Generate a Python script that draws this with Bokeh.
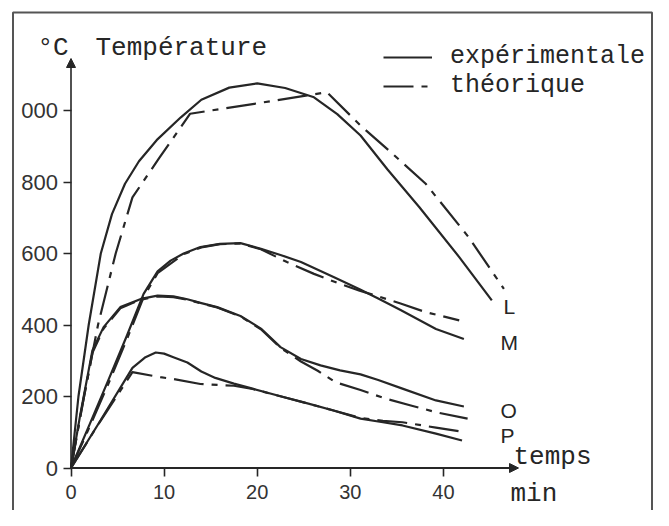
from bokeh.plotting import figure
from bokeh.models import Range1d, FixedTicker, Label, Arrow, NormalHead, Legend, LegendItem
from bokeh.embed import file_html
from bokeh.resources import INLINE

# ---------------- data ----------------
x_ticks = [0, 10, 20, 30, 40]
y_ticks = [0, 200, 400, 600, 800, 1000]
y_tick_labels = {1000: "000"}

# L
L_exp_t = [0, 0.8, 1.9, 3.2, 4.4, 5.8, 7.3, 9.2, 11.8, 14, 17, 20, 23, 26.1, 28.6, 31.1, 34, 37.4, 41.7, 45.2]
L_exp_T = [0, 200, 400, 600, 710, 795, 858, 917, 981, 1030, 1064, 1076, 1063, 1037, 990, 930, 835, 730, 590, 469]
L_th_t = [0, 1.4, 2.9, 4.8, 6.6, 9.5, 12.8, 20, 27.5, 31.1, 34.5, 38.1, 42.7, 46.5]
L_th_T = [0, 200, 400, 600, 757, 868, 991, 1020, 1051, 958, 880, 795, 646, 501]
# M
M_exp_t = [0, 2, 4, 6, 7.8, 9.3, 10.7, 12.1, 13.9, 16, 18.2, 20.4, 22.5, 24.7, 28.2, 31, 33, 35.4, 39.2, 42.2]
M_exp_T = [0, 122, 245, 370, 487, 550, 580, 600, 618, 627, 629, 613, 596, 576, 534, 500, 474, 442, 389, 361]
M_th_t = [0, 2, 4, 6, 7.8, 9.3, 12.1, 14, 16, 18.2, 20.4, 23.2, 26.1, 28.9, 31, 33, 35.4, 38.1, 41.7]
M_th_T = [0, 115, 235, 360, 478, 545, 598, 617, 626, 628, 612, 576, 543, 515, 496, 480, 460, 436, 413]
# O
O_exp_t = [0, 1, 2.3, 3.5, 5.3, 7.5, 9.3, 11, 12.5, 13.9, 15.7, 18.2, 20.4, 22.5, 24.7, 26.8, 28.9, 31.1, 33, 35.6, 39.2, 42.2]
O_exp_T = [0, 150, 329, 394, 450, 473, 482, 480, 472, 462, 450, 425, 390, 338, 305, 287, 273, 262, 246, 222, 189, 172]
O_th_t = [0, 1, 2.3, 3.5, 5.3, 7.5, 9.3, 11, 12.5, 13.9, 15.7, 18.2, 20.4, 22.5, 24.7, 26.5, 28.4, 31.1, 33.8, 36.5, 39.2, 42.6]
O_th_T = [0, 145, 322, 390, 447, 471, 480, 478, 471, 461, 449, 424, 388, 336, 298, 272, 240, 218, 194, 175, 156, 138]
# P
P_exp_t = [0, 3, 6.6, 8, 9.1, 10, 11, 12.5, 14, 15.5, 17.5, 19.5, 22.9, 25.5, 28.2, 31.1, 33.5, 35.6, 39.2, 42]
P_exp_T = [0, 126, 280, 310, 323, 320, 310, 295, 270, 252, 236, 222, 198, 180, 161, 138, 128, 119, 96, 77]
P_th_t = [0, 3, 6.6, 9.6, 11, 13.9, 17.5, 19.5, 22.9, 25.5, 28.2, 31.1, 33.5, 35.6, 39.2, 42.4]
P_th_T = [0, 125, 268, 254, 249, 235, 230, 221, 198, 180, 161, 140, 132, 128, 113, 100]

curve_names = ["L", "M", "O", "P"]
legend_labels = ["expérimentale", "théorique"]

# ---------------- layout / style ----------------
W, H = 653, 510
OFFSET = 0                  # picture px of the figure's left/top edge
X0_PX, XS = 70.5, 9.31      # picture px of t=0, px per minute
Y0_PX, YS = 467.5, 0.3575   # picture px of 0 °C, px per degree
INK = "#262626"
MONO = "Liberation Mono"
SANS = "Liberation Sans"
DASHDOT = "30 8 6 8"
LW = 2.2


def px2x(px):
    return (px - X0_PX) / XS


def px2y(py):
    return (Y0_PX - py) / YS


p = figure(width=W, height=H, output_backend="svg", toolbar_location=None,
           x_range=Range1d(px2x(OFFSET), px2x(OFFSET + W)),
           y_range=Range1d(px2y(OFFSET + H), px2y(OFFSET)),
           min_border=0, background_fill_color="white", border_fill_color="white")
p.outline_line_color = None
p.grid.visible = False

for ax in (p.xaxis[0], p.yaxis[0]):
    ax.fixed_location = 0
    ax.axis_line_color = None
    ax.major_tick_out = 8
    ax.major_tick_in = 0
    ax.minor_tick_out = 0
    ax.minor_tick_in = 0
    ax.major_tick_line_color = INK
    ax.major_tick_line_width = 1.6
    ax.major_label_text_font = SANS
    ax.major_label_text_color = "#333333"
p.xaxis.ticker = FixedTicker(ticks=x_ticks)
p.yaxis.ticker = FixedTicker(ticks=y_ticks)
p.yaxis.major_label_overrides = y_tick_labels
p.xaxis.major_label_text_font_size = "20px"
p.yaxis.major_label_text_font_size = "22px"
p.xaxis.major_label_standoff = 9
p.yaxis.major_label_standoff = 5

# frame border of the scanned figure
b_left, b_top, b_right, b_bottom = px2x(12.5), px2y(12), px2x(OFFSET + W - 1.5), px2y(OFFSET + H + 20)
p.line([b_left, b_left, b_right, b_right], [b_bottom, b_top, b_top, b_bottom],
       line_color="#555555", line_width=2)

# axis arrows
p.add_layout(Arrow(end=NormalHead(size=9, fill_color=INK, line_color=INK),
                   x_start=0, y_start=0, x_end=0, y_end=px2y(58),
                   line_color=INK, line_width=1.6))
p.add_layout(Arrow(end=NormalHead(size=9, fill_color=INK, line_color=INK),
                   x_start=0, y_start=0, x_end=px2x(518), y_end=0,
                   line_color=INK, line_width=1.8))

exp_series = [(L_exp_t, L_exp_T), (M_exp_t, M_exp_T), (O_exp_t, O_exp_T), (P_exp_t, P_exp_T)]
th_series = [(L_th_t, L_th_T), (M_th_t, M_th_T), (O_th_t, O_th_T), (P_th_t, P_th_T)]

exp_r, th_r = [], []
for t, T in exp_series:
    exp_r.append(p.line(t, T, line_color=INK, line_width=LW, line_join="round"))
for t, T in th_series:
    th_r.append(p.line(t, T, line_color=INK, line_width=LW, line_dash=DASHDOT, line_join="round"))

legend = Legend(items=[LegendItem(label=legend_labels[0], renderers=[exp_r[0]]),
                       LegendItem(label=legend_labels[1], renderers=[th_r[0]])],
                location=(383, 410), glyph_width=49, label_standoff=18, padding=0, margin=0,
                spacing=0, border_line_color=None, background_fill_alpha=0,
                label_text_font=MONO, label_text_font_size="25px", label_text_color=INK)
p.add_layout(legend)

# curve labels (picture-pixel anchors)
curve_label_px = {"L": (503, 306), "M": (500, 342), "O": (500, 410), "P": (500, 435)}
for name in curve_names:
    lx, ly = curve_label_px[name]
    p.add_layout(Label(x=px2x(lx), y=px2y(ly), text=name, text_font=SANS, text_font_size="21px",
                       text_color=INK, text_align="left", text_baseline="middle"))

# titles / units
texts = [("°C", 37, 47), ("Température", 95, 47), ("temps", 513, 456), ("min", 510, 493)]
for txt, lx, ly in texts:
    p.add_layout(Label(x=px2x(lx), y=px2y(ly), text=txt, text_font=MONO, text_font_size="26px",
                       text_color=INK, text_align="left", text_baseline="alphabetic"))

open("out.html", "w").write(file_html(p, INLINE))
